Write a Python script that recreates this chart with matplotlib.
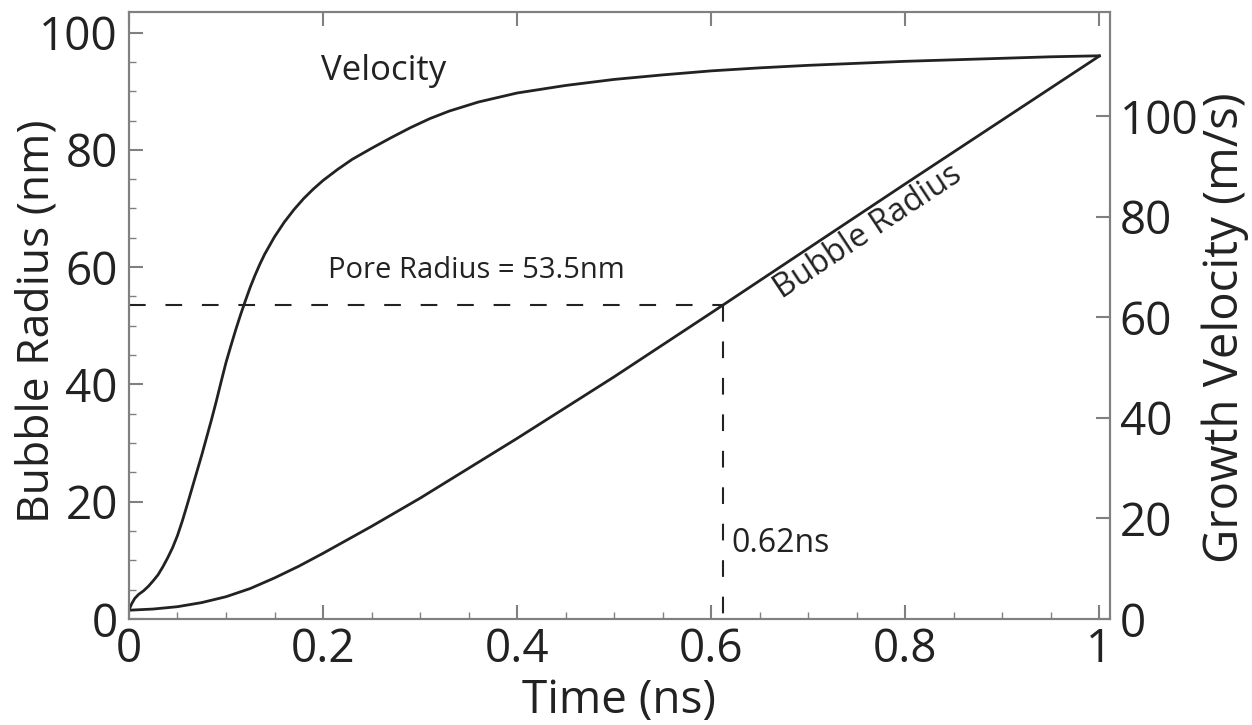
import matplotlib
matplotlib.use("Agg")
import matplotlib.pyplot as plt
from matplotlib.ticker import MultipleLocator, FixedLocator

plt.rcParams["font.family"] = ["Open Sans", "DejaVu Sans"]

# Values
time_v = [0.0, 0.003, 0.006, 0.010, 0.015, 0.020, 0.025, 0.030, 0.035, 0.040,
          0.045, 0.050, 0.055, 0.060, 0.065, 0.070, 0.075, 0.080, 0.085, 0.090,
          0.095, 0.100, 0.105, 0.110, 0.115, 0.120, 0.125, 0.130, 0.135, 0.140,
          0.150, 0.160, 0.170, 0.180, 0.190, 0.200, 0.215, 0.230, 0.250, 0.270,
          0.290, 0.310, 0.330, 0.360, 0.400, 0.450, 0.500, 0.550, 0.600, 0.650,
          0.700, 0.750, 0.800, 0.850, 0.900, 0.950, 1.000]
velocity = [1.8, 3.1, 4.1, 4.9, 5.6, 6.5, 7.6, 8.8, 10.4, 12.2,
            14.2, 16.6, 19.5, 22.7, 26.0, 29.3, 32.6, 36.1, 39.6, 43.3,
            47.2, 51.0, 54.3, 57.5, 60.5, 63.3, 66.0, 68.4, 70.6, 72.6,
            76.0, 78.9, 81.4, 83.6, 85.5, 87.2, 89.4, 91.4, 93.6, 95.7,
            97.7, 99.5, 101.0, 102.8, 104.6, 106.1, 107.3, 108.2, 109.0, 109.6,
            110.1, 110.5, 110.9, 111.2, 111.5, 111.8, 112.0]

time_r = [0.0, 0.025, 0.05, 0.075, 0.1, 0.125, 0.15, 0.175, 0.2, 0.225,
          0.25, 0.3, 0.35, 0.4, 0.5, 0.6, 0.7, 0.8, 0.9, 1.0]
radius = [1.5, 1.7, 2.1, 2.8, 3.8, 5.2, 7.0, 9.0, 11.2, 13.5,
          15.8, 20.6, 25.7, 30.8, 41.3, 52.2, 63.2, 74.2, 85.1, 96.0]

velocity_ticks = [0, 20, 40, 60, 80, 100]

pore_time = 0.612
pore_radius = 53.5

line_col = "#222222"
axis_col = "#808080"

fig = plt.figure(figsize=(12.52, 7.25), dpi=100)
ax = fig.add_axes([0.103, 0.1462, 0.7836, 0.8372])
ax2 = ax.twinx()

ax.plot(time_r, radius, color=line_col, lw=2.0)
ax2.plot(time_v, velocity, color=line_col, lw=2.0)

# pore radius guide lines
ax.plot([0, pore_time], [pore_radius, pore_radius], color=line_col, lw=1.5, dashes=(8, 9.5))
ax.plot([pore_time, pore_time], [pore_radius, 0], color=line_col, lw=1.5, dashes=(8, 9.5))

ax.set_xlim(0, 1.011)
ax.set_ylim(0, 103.5)
ax2.set_ylim(0, 120.7)

ax.xaxis.set_major_locator(MultipleLocator(0.2))
ax.xaxis.set_minor_locator(MultipleLocator(0.05))
ax.yaxis.set_major_locator(MultipleLocator(20))
ax.yaxis.set_minor_locator(MultipleLocator(5))
ax2.yaxis.set_major_locator(FixedLocator(velocity_ticks))

ax.xaxis.set_major_formatter(plt.FuncFormatter(lambda v, p: f"{v:g}"))

ax.tick_params(axis="x", which="both", direction="in", top=True, labeltop=False,
               colors=axis_col, labelcolor=line_col, labelsize=33, pad=6)
ax.tick_params(axis="x", which="minor", top=False, length=5, width=1)
ax.tick_params(axis="x", which="major", length=10, width=1.5)
ax.tick_params(axis="y", which="both", direction="in", colors=axis_col,
               labelcolor=line_col, labelsize=33, pad=8)
ax.tick_params(axis="y", which="major", length=10, width=1.5)
ax.tick_params(axis="y", which="minor", length=5, width=1)
ax2.tick_params(axis="y", direction="in", colors=axis_col, labelcolor=line_col,
                labelsize=33, pad=7, length=10, width=1.5)

for a in (ax, ax2):
    for s in a.spines.values():
        s.set_color(axis_col)
        s.set_linewidth(1.5)

ax.set_xlabel("Time (ns)", fontsize=33, color=line_col)
ax.xaxis.set_label_coords(0.5, -0.098)
ax.set_ylabel("Bubble Radius (nm)", fontsize=32, color=line_col, va="center")
ax.yaxis.set_label_coords(-0.093, 0.49)
ax2.set_ylabel("Growth Velocity (m/s)", fontsize=34, color=line_col, va="center")
ax2.yaxis.set_label_coords(1.117, 0.48)

ax.text(0.198, 93.5, "Velocity", fontsize=25, color=line_col, ha="left", va="center")
ax.text(0.205, 59.5, "Pore Radius = 53.5nm", fontsize=21, color=line_col, ha="left", va="center")
ax.text(pore_time + 0.009, 12.8, "0.62ns", fontsize=23, color=line_col, ha="left", va="center")
ax.text(0.762, 66.0, "Bubble Radius", fontsize=23.5, color=line_col, ha="center", va="center",
        rotation=33.5, rotation_mode="anchor")

fig.savefig("out.png", dpi=100)
